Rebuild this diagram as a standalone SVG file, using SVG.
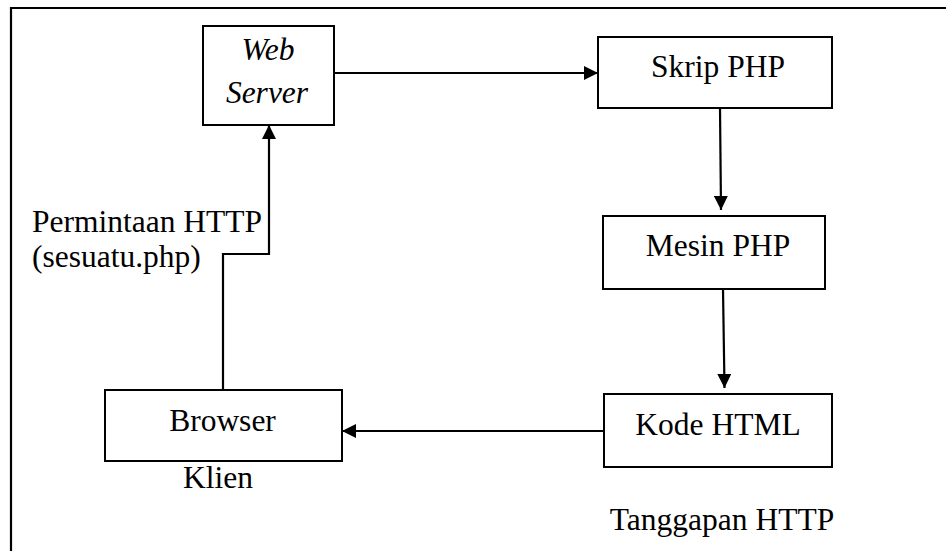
<svg xmlns="http://www.w3.org/2000/svg" width="946" height="551" viewBox="0 0 946 551" font-family="Liberation Serif, serif" font-size="31.5">
<defs>
<style>
.box{fill:#fff;stroke:#000;stroke-width:2}
.c{text-anchor:middle}
.i{font-style:italic}
.ln{fill:none;stroke:#000;stroke-width:2.2}
</style>
<marker id="ah" viewBox="0 0 14 14" refX="14" refY="7" markerWidth="14" markerHeight="14" markerUnits="userSpaceOnUse" orient="auto">
<path d="M0,0 L14,7 L0,14 Z" fill="#000"/>
</marker>
</defs>
<rect x="0" y="0" width="946" height="551" fill="#fff"/>
<path d="M11,560 L11,8 L960,8" fill="none" stroke="#000" stroke-width="2.2"/>
<g id="connectors">
<path class="ln" d="M334,73 L598,73" marker-end="url(#ah)"/>
<path class="ln" d="M720,108 L721,210" marker-end="url(#ah)"/>
<path class="ln" d="M723,289 L724.5,388" marker-end="url(#ah)"/>
<path class="ln" d="M604,431 L342,431" marker-end="url(#ah)"/>
<path class="ln" d="M223,390 L223,254 L269,254 L269,125" marker-end="url(#ah)"/>
</g>
<g id="web-server">
<rect class="box" x="203" y="26" width="131" height="99"/>
<text class="c i" x="268" y="60">Web</text>
<text class="c i" x="267" y="103">Server</text>
</g>
<g id="skrip-php">
<rect class="box" x="598" y="37" width="234" height="71"/>
<text class="c" x="718" y="77">Skrip PHP</text>
</g>
<g id="mesin-php">
<rect class="box" x="603" y="216" width="222" height="73"/>
<text class="c" x="718" y="256">Mesin PHP</text>
</g>
<g id="kode-html">
<rect class="box" x="604" y="394" width="228" height="73"/>
<text class="c" x="718" y="435">Kode HTML</text>
</g>
<g id="browser">
<rect class="box" x="105" y="390" width="237" height="71"/>
<text class="c" x="222.5" y="431">Browser</text>
</g>
<g id="labels">
<text x="32" y="232">Permintaan HTTP</text>
<text x="32" y="267">(sesuatu.php)</text>
<text class="c" x="218" y="488">Klien</text>
<text class="c" x="722" y="530">Tanggapan HTTP</text>
</g>
</svg>
